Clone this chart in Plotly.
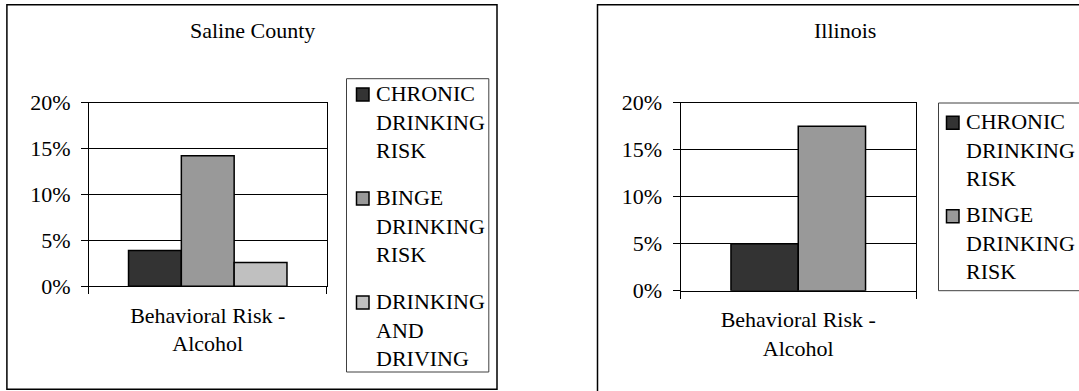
import plotly.graph_objects as go

# ---- data -------------------------------------------------------------
categories = ["Behavioral Risk -<br>Alcohol"]
series_names = ["CHRONIC DRINKING RISK", "BINGE DRINKING RISK", "DRINKING AND DRIVING"]
series_colors = ["#333333", "#999999", "#c0c0c0"]
saline_values = [3.9, 14.2, 2.6]      # percent
illinois_values = [5.0, 17.5]         # percent
y_ticks = [0, 5, 10, 15, 20]
y_tick_labels = ["0%", "5%", "10%", "15%", "20%"]
panel_titles = ["Saline County", "Illinois"]

# ---- page geometry (pixels) -------------------------------------------
W, H = 1079, 391
FONT = dict(family="Liberation Serif", size=22, color="black")


def px(x):
    return x / W


def py(y):
    return 1 - y / H


fig = go.Figure()

panels = [
    dict(values=saline_values, title=panel_titles[0], xa="x", ya="y",
         plot=(88.9, 326.6, 102.5, 286.3), frame=(6.9, 497.0, 4.7, 389.3),
         legend=(346.5, 488.8, 78.7, 372.0), sym_x=356.5, text_x=373.5,
         first_base=100.0, pitch=104.0, title_x=252.0),
    dict(values=illinois_values, title=panel_titles[1], xa="x2", ya="y2",
         plot=(680.5, 916.0, 102.7, 290.7), frame=(597.5, 1092.0, 4.7, 420.0),
         legend=(938.5, 1100.0, 103.0, 290.7), sym_x=946.5, text_x=963.5,
         first_base=128.3, pitch=93.4, title_x=845.0),
]

shapes = []
annotations = []
axis_common = dict(showline=True, linecolor="black", linewidth=1, mirror=True,
                   ticks="outside", ticklen=7, tickcolor="black", tickwidth=1,
                   tickfont=FONT, zeroline=False, automargin=False)

for i, p in enumerate(panels):
    n = len(p["values"])
    bar_w = 1.0 / (n + 1.5)          # 150% gap between category groups
    for k, v in enumerate(p["values"]):
        fig.add_trace(go.Bar(
            x=categories, y=[v], name=series_names[k],
            width=bar_w, offset=(k - n / 2) * bar_w,
            marker=dict(color=series_colors[k], line=dict(color="black", width=1.5)),
            xaxis=p["xa"], yaxis=p["ya"], showlegend=False,
        ))

    x0, x1, y0, y1 = p["plot"]
    sfx = "" if i == 0 else "2"
    fig.update_layout({
        "xaxis" + sfx: dict(axis_common, domain=[px(x0), px(x1)], type="category",
                           range=[-0.5, 0.5], tickson="boundaries", showgrid=False,
                           ticklabelstandoff=9, anchor="y" + sfx),
        "yaxis" + sfx: dict(axis_common, domain=[py(y1), py(y0)], range=[0, 20],
                           tickmode="array", tickvals=y_ticks, ticktext=y_tick_labels,
                           showgrid=True, gridcolor="black", gridwidth=1,
                           ticklabelstandoff=6, anchor="x" + sfx),
    })

    # outer chart frame
    fx0, fx1, fy0, fy1 = p["frame"]
    shapes.append(dict(type="rect", xref="paper", yref="paper",
                       x0=px(fx0), x1=px(fx1), y0=py(fy1), y1=py(fy0),
                       line=dict(color="black", width=1.5), layer="below"))

    # chart title
    annotations.append(dict(text=p["title"], xref="paper", yref="paper",
                            x=px(p["title_x"]), y=py(16.0), xanchor="center",
                            yanchor="top", showarrow=False, font=FONT))

    # legend box with one entry per series
    lx0, lx1, ly0, ly1 = p["legend"]
    shapes.append(dict(type="rect", xref="paper", yref="paper",
                       x0=px(lx0), x1=px(lx1), y0=py(ly1), y1=py(ly0),
                       line=dict(color="#404040", width=1)))
    for k in range(n):
        base = p["first_base"] + k * p["pitch"]
        shapes.append(dict(type="rect", xref="paper", yref="paper",
                           x0=px(p["sym_x"]), x1=px(p["sym_x"] + 12.5),
                           y0=py(base + 1.0), y1=py(base - 12.0),
                           fillcolor=series_colors[k],
                           line=dict(color="black", width=1.5)))
        annotations.append(dict(text=series_names[k].replace(" ", "<br>"),
                                xref="paper", yref="paper",
                                x=px(p["text_x"]), y=py(base - 21.5),
                                xanchor="left", yanchor="top", align="left",
                                showarrow=False, font=FONT))

fig.update_layout(
    width=W, height=H,
    margin=dict(l=0, r=0, t=0, b=0, pad=0, autoexpand=False),
    paper_bgcolor="white", plot_bgcolor="white", showlegend=False,
    barmode="group", shapes=shapes, annotations=annotations,
    font=FONT,
)

fig.write_html("out.html")
